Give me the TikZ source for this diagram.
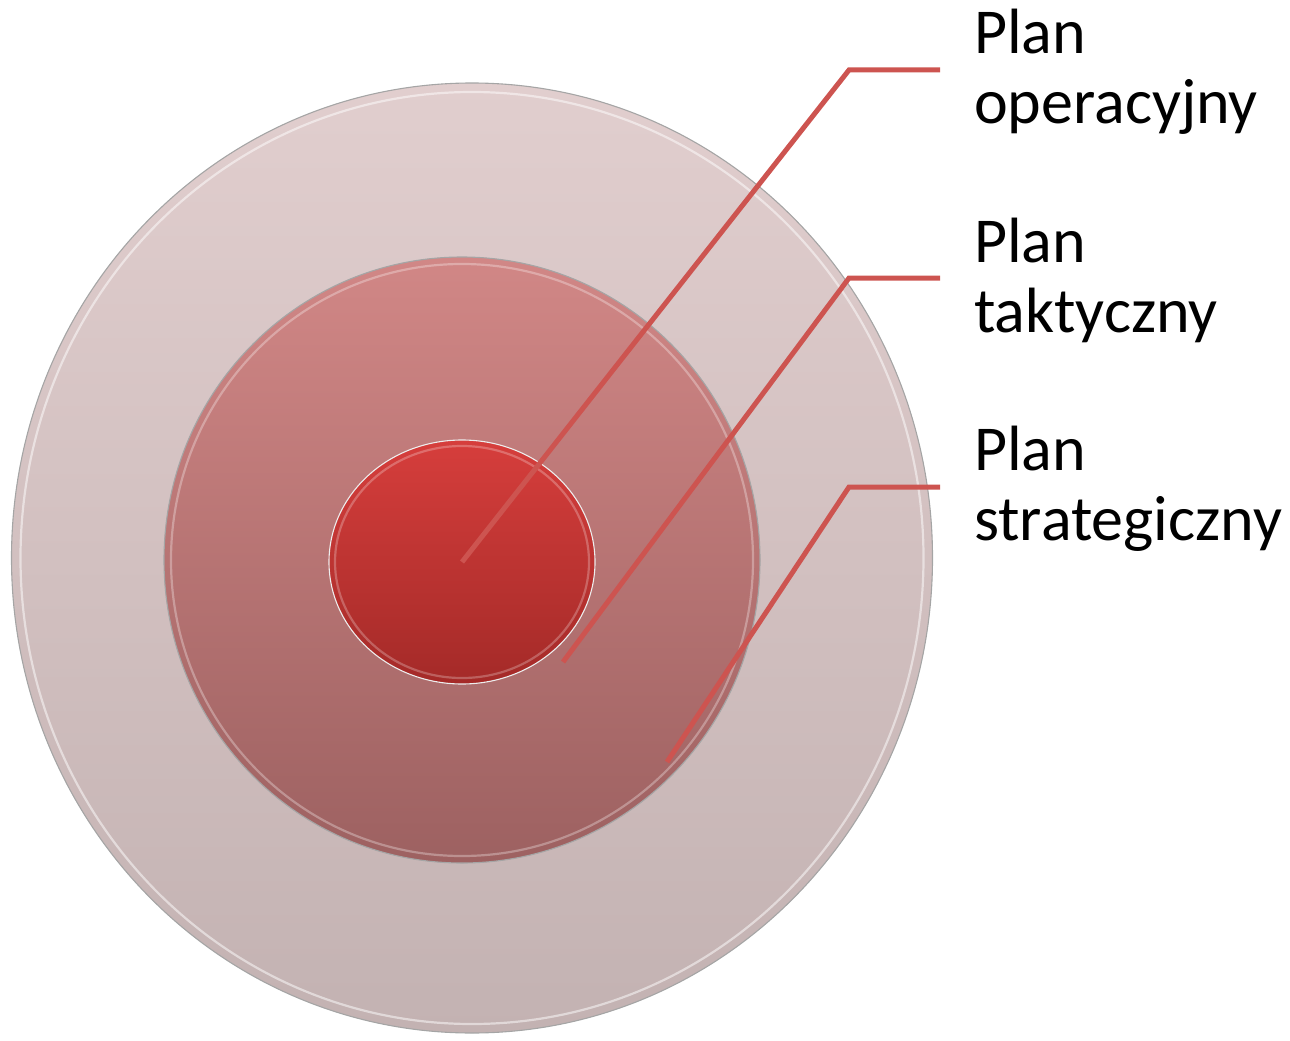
\documentclass[tikz,border=0pt]{standalone}
\usepackage{fontspec}
\setmainfont{Carlito}
\usetikzlibrary{shapes.geometric}
\definecolor{outerTop}{RGB}{225,206,206}
\definecolor{outerBot}{RGB}{195,178,178}
\definecolor{midTop}{RGB}{209,135,134}
\definecolor{midBot}{RGB}{157,97,97}
\definecolor{inTop}{RGB}{214,62,60}
\definecolor{inBot}{RGB}{164,42,40}
\definecolor{leader}{RGB}{205,84,80}
\definecolor{rimgray}{RGB}{165,165,165}
\begin{document}
\begin{tikzpicture}[x=1pt,y=-1pt,
  disc/.style={ellipse, inner sep=0pt, draw=rimgray, line width=1.1pt},
  hilite/.style={ellipse, inner sep=0pt, draw=white, line width=2.2pt},
  leaderline/.style={draw=leader, line width=5pt},
  lbl/.style={anchor=base west, inner sep=0pt, align=left, font=\fontsize{64}{70}\selectfont}]
\useasboundingbox (0,0) rectangle (1290,1041);
% outer disc
\node[disc, minimum width=921pt, minimum height=950pt, top color=outerTop, bottom color=outerBot] (outer) at (472,558) {};
\node[hilite, opacity=0.5, minimum width=903pt, minimum height=932pt] (outerrim) at (472,558) {};
% middle disc
\node[disc, minimum width=596pt, minimum height=606pt, top color=midTop, bottom color=midBot] (middle) at (462,560) {};
\node[hilite, opacity=0.3, minimum width=582pt, minimum height=592pt] (middlerim) at (462,560) {};
% inner disc
\node[disc, draw=white!80!rimgray, minimum width=266pt, minimum height=244pt, top color=inTop, bottom color=inBot] (inner) at (462,562) {};
\node[hilite, opacity=0.25, minimum width=254pt, minimum height=232pt] (innerrim) at (462,562) {};
% leader lines
\coordinate (s2) at (563,662);
\coordinate (s3) at (667,762);
\coordinate (k1) at (849,70);
\coordinate (k2) at (849,278);
\coordinate (k3) at (849,487);
\coordinate (t1) at (940,70);
\coordinate (t2) at (940,278);
\coordinate (t3) at (940,487);
\draw[leaderline] (inner.center) -- (k1) -- (t1);
\draw[leaderline] (s2) -- (k2) -- (t2);
\draw[leaderline] (s3) -- (k3) -- (t3);
% labels (anchor at baseline of the last line)
\node[lbl] (l1) at (974,123) {Plan\\operacyjny};
\node[lbl] (l2) at (974,332) {Plan\\taktyczny};
\node[lbl] (l3) at (974,540) {Plan\\strategiczny};
\end{tikzpicture}
\end{document}
